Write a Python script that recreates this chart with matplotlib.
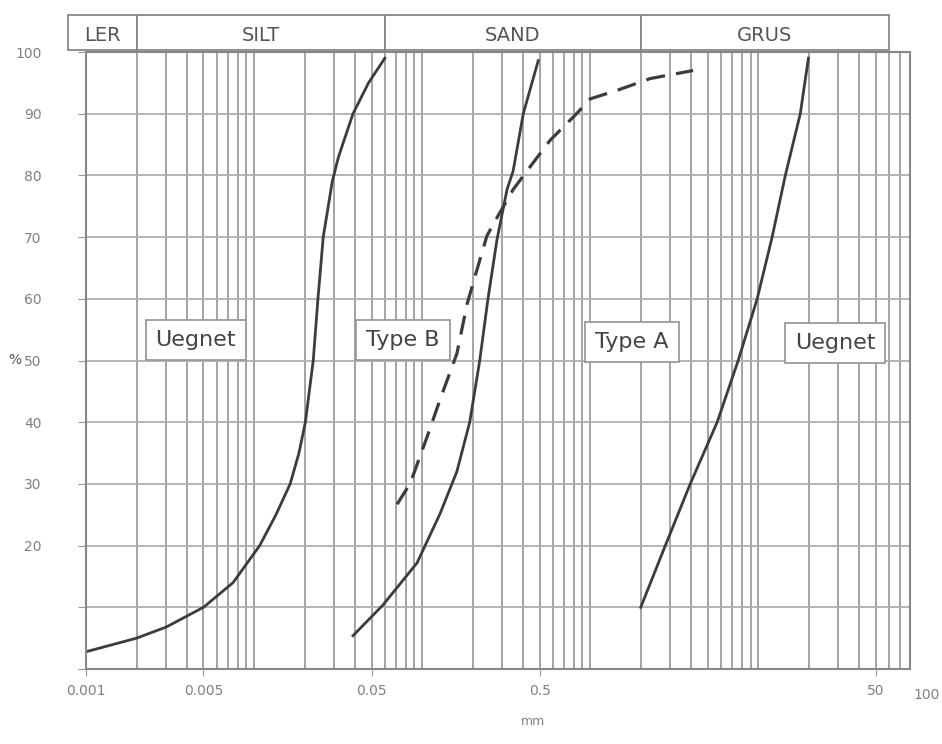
import matplotlib.pyplot as plt
import matplotlib.transforms as mtransforms
from matplotlib.patches import Rectangle
from matplotlib.ticker import LogLocator, NullFormatter

# Fractions along the top (grain size limits in mm)
fraction_names = ['LER', 'SILT', 'SAND', 'GRUS']
fraction_bounds = [0.00078, 0.002, 0.06, 2.0, 60.0]

# Envelope curves: grain size (mm) vs passing (%)
fine_limit_mm = [0.001, 0.002, 0.003, 0.005, 0.0075, 0.0108, 0.0135, 0.0164, 0.0185,
                 0.0202, 0.0225, 0.024, 0.0258, 0.0292, 0.0318, 0.0388, 0.048, 0.06]
fine_limit_pct = [2.8, 5.0, 6.8, 10, 14, 20, 25, 30, 35,
                  40, 50, 60, 70, 79, 83, 90, 95, 99]

middle_mm = [0.0388, 0.0586, 0.0933, 0.128, 0.161, 0.192, 0.220, 0.246, 0.279,
             0.320, 0.348, 0.400, 0.491]
middle_pct = [5.4, 10.4, 17.2, 25.2, 32, 40, 49.9, 59.8, 69.6, 77.7, 80.7, 90, 98.6]

typeb_mm = [0.071, 0.085, 0.1067, 0.128, 0.161, 0.185, 0.212, 0.243, 0.281,
            0.348, 0.420, 0.578, 0.83, 1.0, 1.45, 2.28, 4.1]
typeb_pct = [26.7, 30.1, 37.5, 43.7, 51.1, 59.1, 64.7, 70.2, 73.3,
             77.7, 80.7, 85.7, 90, 92.4, 93.8, 95.7, 97.0]

coarse_limit_mm = [2.0, 2.8, 3.94, 5.7, 7.6, 9.86, 12.1, 14.5, 17.8, 19.9]
coarse_limit_pct = [10, 20, 30, 40, 50, 60, 70, 80, 90, 99]

x_ticks = [0.001, 0.005, 0.05, 0.5, 50]
x_tick_labels = ['0.001', '0.005', '0.05', '0.5', '50']
y_ticks = [0, 10, 20, 30, 40, 50, 60, 70, 80, 90, 100]
y_tick_labels = ['', '', '20', '30', '40', '50', '60', '70', '80', '90', '100']

zone_names = ['Uegnet', 'Type B', 'Type A', 'Uegnet']

plt.rcParams['font.family'] = ['DejaVu Sans']

fig = plt.figure(figsize=(9.42, 7.44), dpi=100)
ax = fig.add_axes([0.0913, 0.1008, 0.8747, 0.8293])

ax.set_xscale('log')
ax.set_xlim(0.001, 80)
ax.set_ylim(0, 100)

# log paper grid
ax.xaxis.set_minor_locator(LogLocator(base=10, subs=range(1, 10), numticks=20))
ax.xaxis.set_minor_formatter(NullFormatter())
ax.set_xticks(x_ticks)
ax.set_xticklabels(x_tick_labels)
ax.set_yticks(y_ticks)
ax.set_yticklabels(y_tick_labels)
ax.grid(which='both', axis='x', color='#9c9c9c', linewidth=1.3)
ax.grid(which='major', axis='y', color='#b0b0b0', linewidth=1.3)
ax.tick_params(which='minor', length=0)
ax.tick_params(axis='x', which='major', length=5, pad=6, labelsize=10, labelcolor='#808080', color='#999999')
ax.tick_params(axis='y', which='major', length=6, pad=26, labelsize=10, labelcolor='#808080', color='#999999')
for s in ax.spines.values():
    s.set_color('#888888')
    s.set_linewidth(1.5)

# the last size label sits right of the frame
ax.text(100, -0.03, '100', transform=mtransforms.blended_transform_factory(ax.transData, ax.transAxes),
        ha='center', va='top', fontsize=10, color='#808080', clip_on=False)

ax.set_xlabel('mm', fontsize=9, color='#808080')
ax.xaxis.set_label_coords(0.5425, -0.075)
ax.set_ylabel('%', rotation=0, fontsize=10, color='#555555')
ax.yaxis.set_label_coords(-0.086, 0.49)

# curves
ax.plot(fine_limit_mm, fine_limit_pct, color='#3c3c3c', linewidth=2)
ax.plot(middle_mm, middle_pct, color='#3c3c3c', linewidth=2)
ax.plot(coarse_limit_mm, coarse_limit_pct, color='#3c3c3c', linewidth=2)
ax.plot(typeb_mm, typeb_pct, color='#3c3c3c', linewidth=2.3, linestyle=(0, (6, 3.5)))

# fraction header above the plot
hdr = mtransforms.blended_transform_factory(ax.transData, ax.transAxes)
for i, name in enumerate(fraction_names):
    lo, hi = fraction_bounds[i], fraction_bounds[i + 1]
    ax.add_patch(Rectangle((lo, 1.003), hi - lo, 0.057, transform=hdr, facecolor='white',
                           edgecolor='#888888', linewidth=1.3, clip_on=False))
    ax.text((lo * hi) ** 0.5, 1.026, name, transform=hdr, ha='center', va='center',
            fontsize=14, color='#555555', clip_on=False)

# zone labels in boxes
zone_pos = [(0.0045, 53.3), (0.077, 53.3), (1.78, 53.0), (28.7, 52.8)]
for name, (xp, yp) in zip(zone_names, zone_pos):
    ax.text(xp, yp, name, ha='center', va='center', fontsize=16, color='#444444',
            bbox=dict(boxstyle='square,pad=0.45', facecolor='white', edgecolor='#9a9a9a', linewidth=1.3))

fig.savefig('out.png', dpi=100)
